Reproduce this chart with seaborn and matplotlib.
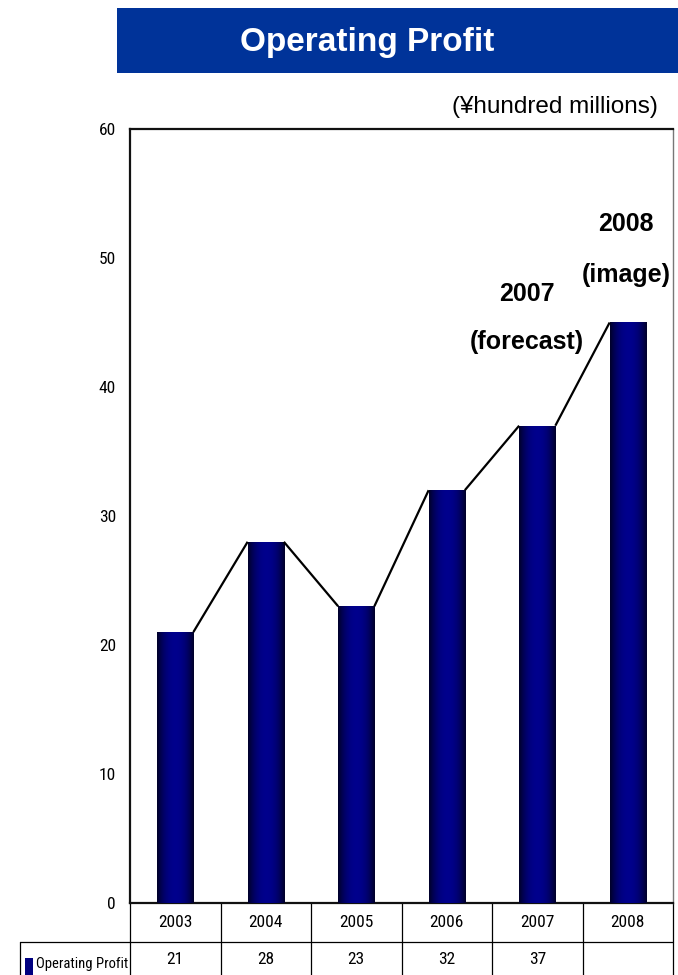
import numpy as np
import pandas as pd
import matplotlib
matplotlib.use("Agg")
import matplotlib.pyplot as plt
import matplotlib.transforms as mtransforms
import seaborn as sns

years = ["2003", "2004", "2005", "2006", "2007", "2008"]
profit = [21, 28, 23, 32, 37, 45]
table_values = ["21", "28", "23", "32", "37", ""]
y_ticks = [0, 10, 20, 30, 40, 50, 60]
series_name = "Operating Profit"
unit_label = "(\u00a5hundred millions)"

sns.set_theme(style="white")
plt.rcParams["font.family"] = ["Liberation Sans", "DejaVu Sans"]
plt.rcParams["text.color"] = "black"
NARROW = ["Roboto Condensed", "Archivo Narrow", "Liberation Sans Narrow", "DejaVu Sans"]

W, H = 678, 975
fig = plt.figure(figsize=(W / 100, H / 100), dpi=100)
ax = fig.add_axes([130 / W, 1 - 903 / H, (673 - 130) / W, (903 - 129) / H])

df = pd.DataFrame({"year": years, "profit": profit})
sns.barplot(data=df, x="year", y="profit", ax=ax, width=0.4, color="#000080",
            saturation=1, edgecolor="none", linewidth=0)

# cylinder-like horizontal shading on each bar
grad = np.abs(np.linspace(-1, 1, 64))
shade = np.zeros((1, 64, 3))
dark = np.array([0.0, 0.0, 0.16])
light = np.array([0.0, 0.0, 0.55])
for k in range(64):
    t = grad[k] ** 2.2
    shade[0, k] = light * (1 - t) + dark * t
bars = list(ax.patches)
for p in bars:
    x0, y0 = p.get_x(), p.get_y()
    w, h = p.get_width(), p.get_height()
    im = ax.imshow(shade, extent=[x0, x0 + w, y0, y0 + h], aspect="auto",
                   interpolation="bicubic", zorder=3)
    im.set_clip_path(p)

# connector from each bar's top-right corner to the next bar's top-left corner
for a, b in zip(bars[:-1], bars[1:]):
    ax.plot([a.get_x() + a.get_width(), b.get_x()], [a.get_height(), b.get_height()],
            color="black", lw=1.6, zorder=4, solid_capstyle="butt")

ax.set_xlim(-0.5, len(years) - 0.5)
ax.set_ylim(0, 60)
ax.set_yticks(y_ticks)
ax.set_yticklabels([str(v) for v in y_ticks], fontfamily=NARROW, fontsize=12.5, color="black")
ax.tick_params(axis="y", length=0, pad=10)
ax.set_xticks([])
ax.set_xlabel("")
ax.set_ylabel("")
for s in ["left", "top", "bottom"]:
    ax.spines[s].set_color("#111111")
    ax.spines[s].set_linewidth(1.6)
ax.spines["right"].set_color("#777777")
ax.spines["right"].set_linewidth(1.0)

# annotations for the projected years
bold = dict(ha="center", va="center", fontsize=18, fontweight="bold", color="black")
ax.text(3.89, 47.2, "2007", **bold)
ax.text(3.89, 43.5, "(forecast)", **bold)
ax.text(4.98, 52.6, "2008", **bold)
ax.text(4.98, 48.7, "(image)", **bold)

# data table under the plot
trans = mtransforms.blended_transform_factory(ax.transData, fig.transFigure)
ftrans = fig.transFigure
row1_bot = 1 - 942 / H
row2_bot = 1 - 990 / H
ax_bot = 1 - 903 / H
line_kw = dict(color="black", lw=0.9, clip_on=False)
for i in range(len(years) + 1):
    xb = i - 0.5
    ax.plot([xb, xb], [ax_bot, row2_bot], transform=trans, **line_kw)
ax.plot([-0.5, len(years) - 0.5], [row1_bot, row1_bot], transform=trans, **line_kw)
fig.add_artist(plt.Line2D([20 / W, 130 / W], [row1_bot, row1_bot], transform=ftrans, **line_kw))
fig.add_artist(plt.Line2D([20 / W, 20 / W], [row1_bot, row2_bot], transform=ftrans, **line_kw))
for i, (yr, val) in enumerate(zip(years, table_values)):
    ax.text(i, (ax_bot + row1_bot) / 2, yr, transform=trans, ha="center", va="center",
            fontfamily=NARROW, fontsize=12.5, color="black")
    ax.text(i, 1 - 960 / H, val, transform=trans, ha="center", va="center",
            fontfamily=NARROW, fontsize=12.5, color="black")
fig.add_artist(plt.Rectangle((25 / W, 1 - 975 / H), 8 / W, 17 / H, transform=ftrans,
                             facecolor="#000080", edgecolor="none"))
fig.text(36 / W, 1 - 964 / H, series_name, ha="left", va="center",
         fontfamily=NARROW, fontsize=10.5, color="black")

# title banner
fig.add_artist(plt.Rectangle((117 / W, 1 - 73 / H), (W - 117) / W, 65 / H, transform=ftrans,
                             facecolor="#003399", edgecolor="none"))
fig.text(367 / W, 1 - 42 / H, "Operating Profit", ha="center", va="center",
         color="white", fontsize=24, fontweight="bold")
fig.text(658 / W, 1 - 107 / H, unit_label, ha="right", va="center", fontsize=17.5, color="black")

fig.savefig("out.png", dpi=100)
